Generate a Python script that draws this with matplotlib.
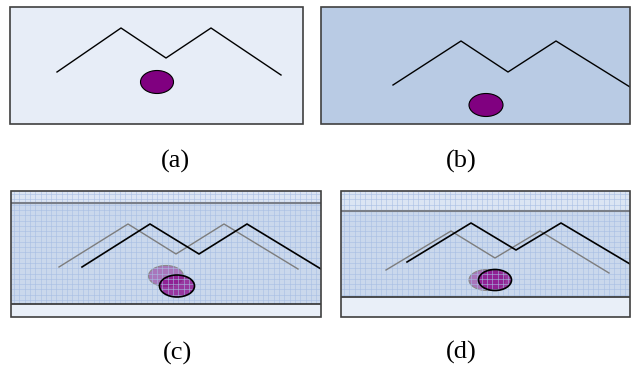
import numpy as np
import matplotlib
matplotlib.use("Agg")
import matplotlib.pyplot as plt
from matplotlib.patches import Rectangle, Ellipse

# --- data (pixel coordinates of the drawing, y grows downward) ---
# panel boxes: left, top, right, bottom
box_a = [10, 7, 303, 124]
box_b = [321, 7, 630, 124]
box_c = [11, 191, 321, 317]
box_d = [341, 191, 630, 317]

# band edges in the lower panels (gray line, black line)
bands_c = [203, 304]
bands_d = [211, 297]

# zigzag lines
line_a_x = [57, 121, 166, 211, 281]
line_a_y = [72, 28, 58, 28, 75]
line_b_x = [393, 461, 508, 556, 630]
line_b_y = [85, 41, 72, 41, 87]
ghost_c_x = [59, 128, 176, 224, 298]
ghost_c_y = [267, 224, 254, 224, 269]
line_c_x = [82, 150, 199, 247, 321]
line_c_y = [267, 224, 254, 224, 269]
ghost_d_x = [386, 451, 495, 540, 609]
ghost_d_y = [270, 231, 258, 231, 273]
line_d_x = [407, 471, 516, 561, 630]
line_d_y = [262, 223, 250, 223, 264]

# ellipses: center x, center y, width, height
ell_a = [157, 82, 33, 23]
ell_b = [486, 105, 34, 23]
ghost_ell_c = [166, 276, 35, 21]
ell_c = [177, 286, 35, 22]
ghost_ell_d = [487, 280, 36, 21]
ell_d = [495, 280, 33, 21]

labels = ["(a)", "(b)", "(c)", "(d)"]
label_x = [175, 461, 178, 461]
label_y = [161, 161, 353, 352]

fig = plt.figure(figsize=(6.32, 3.69), dpi=100)
ax = fig.add_axes([0, 0, 1, 1])
ax.set_xlim(0, 632)
ax.set_ylim(369, 0)
ax.axis("off")

purple = "#800080"


def rect(b, color, z=1):
    r = Rectangle((b[0], b[1]), b[2] - b[0], b[3] - b[1], facecolor=color,
                  edgecolor="none", zorder=z)
    ax.add_patch(r)
    return r


def border(b):
    ax.add_patch(Rectangle((b[0], b[1]), b[2] - b[0], b[3] - b[1],
                           facecolor="none", edgecolor="#404040", lw=1.2, zorder=10))


def ellipse(e, face, alpha, edge, lw, z, edge_z):
    ax.add_patch(Ellipse((e[0], e[1]), e[2], e[3], facecolor=face, alpha=alpha,
                         edgecolor="none", zorder=z))
    ax.add_patch(Ellipse((e[0], e[1]), e[2], e[3], facecolor="none",
                         edgecolor=edge, lw=lw, zorder=edge_z))


# top panels
rect(box_a, "#e7edf7")
border(box_a)
ax.plot(line_a_x, line_a_y, color="black", lw=1.0, zorder=5)
ellipse(ell_a, purple, 1.0, "black", 0.8, 4, 4.5)

rect(box_b, "#b9cbe4")
border(box_b)
clip_b = rect(box_b, "none", 0)
lb, = ax.plot(line_b_x, line_b_y, color="black", lw=1.0, zorder=5)
lb.set_clip_path(clip_b)
ellipse(ell_b, purple, 1.0, "black", 0.8, 4, 4.5)


# lower panels
def lower_panel(b, bands, gx, gy, lx, ly, ge, e):
    rect([b[0], b[1], b[2], bands[0]], "#dbe5f3")
    rect([b[0], bands[0], b[2], bands[1]], "#cad8ec")
    rect([b[0], bands[1], b[2], b[3]], "#e9eff8")
    grid_clip = rect([b[0], b[1], b[2], bands[1]], "none", 0)

    ellipse(ge, purple, 0.45, "#8a8a8a", 0.8, 3, 3.1)
    ellipse(e, "#8a0a8a", 0.78, "black", 1.2, 3.2, 4.6)

    # fine grid over the upper part
    xs = np.arange(b[0] + 3, b[2], 5.3)
    ys = np.arange(b[1] + 3, bands[1], 5.3)
    vl = ax.vlines(xs, b[1], bands[1], color="#a7bde3", lw=0.6, alpha=0.65, zorder=4)
    hl = ax.hlines(ys, b[0], b[2], color="#a7bde3", lw=0.6, alpha=0.65, zorder=4)
    vl.set_clip_path(grid_clip)
    hl.set_clip_path(grid_clip)

    ax.hlines(bands[0], b[0], b[2], color="#7a7f88", lw=1.5, zorder=6)
    ax.hlines(bands[1], b[0], b[2], color="#303030", lw=1.2, zorder=6)

    g, = ax.plot(gx, gy, color="#7d7d7d", lw=1.0, zorder=5)
    k, = ax.plot(lx, ly, color="black", lw=1.2, zorder=5)
    g.set_clip_path(grid_clip)
    k.set_clip_path(grid_clip)
    border(b)


lower_panel(box_c, bands_c, ghost_c_x, ghost_c_y, line_c_x, line_c_y, ghost_ell_c, ell_c)
lower_panel(box_d, bands_d, ghost_d_x, ghost_d_y, line_d_x, line_d_y, ghost_ell_d, ell_d)

for t, x, y in zip(labels, label_x, label_y):
    ax.text(x, y, t, ha="center", va="center", fontsize=19,
            family="Liberation Serif", color="black")

fig.savefig("out.png", dpi=100)
